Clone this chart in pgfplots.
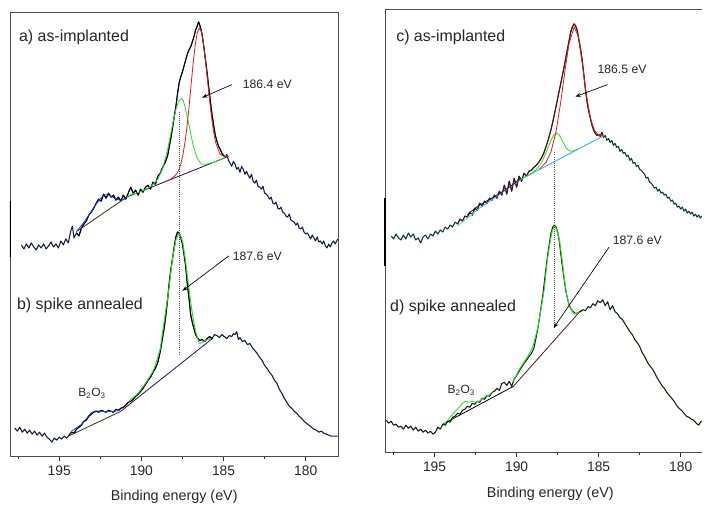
\documentclass[border=0pt]{standalone}
\usepackage{pgfplots}
\pgfplotsset{compat=1.18}
\usepackage{pgfplotstable}
\usepackage{fontspec}
\setmainfont{Liberation Sans}
\usetikzlibrary{arrows.meta}

\definecolor{navydata}{HTML}{101A40}
\definecolor{tealdata}{HTML}{0E3540}
\definecolor{dkdata}{HTML}{0F200F}
\definecolor{fitred}{HTML}{E8141C}
\definecolor{fitgreen}{HTML}{22DD22}
\definecolor{fitblue}{HTML}{1A3AE0}
\definecolor{olivebase}{HTML}{1F3A10}
\definecolor{navybase}{HTML}{151550}
\definecolor{purplebase}{HTML}{2A1050}
\definecolor{envred}{HTML}{5A0A0A}
\definecolor{cyanbase}{HTML}{30B8F0}
\definecolor{turq}{HTML}{40E0C8}
\definecolor{brownbase}{HTML}{5A1A10}

% spectra, y in pixel units above the bottom of each frame
\pgfplotstableread{
E y
197.30 212
197.15 208
197.00 213
196.85 209
196.70 214
196.55 210
196.40 207
196.25 212
196.10 209
195.95 213
195.80 208
195.65 211
195.50 215
195.35 210
195.20 213
195.05 209
194.90 216
194.75 212
194.60 218
194.45 214
194.30 226
194.20 231
194.10 219
193.95 224
193.80 221
193.65 229
193.50 233
193.35 236
193.20 242
193.05 245
192.90 249
192.75 254
192.60 258
192.45 256
192.30 263
192.15 259
192.00 264
191.85 260
191.70 262
191.55 257
191.40 260
191.25 256
191.10 262
190.95 258
190.80 264
190.65 270
190.50 264
190.35 267
190.20 262
190.05 268
189.90 265
189.75 270
189.60 272
189.45 268
189.30 275
189.15 273
189.00 281
188.85 284
188.70 290
188.55 295
188.40 302
188.30 311
188.20 320
188.10 330
188.00 341
187.90 351
187.80 364
187.70 375
187.60 381
187.50 386
187.40 392
187.30 398
187.20 404
187.10 408
187.00 411
186.90 416
186.80 421
186.70 428
186.60 432
186.52 436
186.45 433
186.38 429
186.30 423
186.20 411
186.10 398
186.00 385
185.90 370
185.80 356
185.70 343
185.60 332
185.50 322
185.40 316
185.30 311
185.20 308
185.10 304
185.00 302
184.90 300
184.80 303
184.70 297
184.60 294
184.50 291
184.40 296
184.30 293
184.20 288
184.10 290
184.00 285
183.90 291
183.80 288
183.70 283
183.60 286
183.50 282
183.40 279
183.30 283
183.20 276
183.10 274
183.00 277
182.90 271
182.80 270
182.70 268
182.60 271
182.50 264
182.40 263
182.30 261
182.20 258
182.10 260
182.00 254
181.90 253
181.80 255
181.70 249
181.60 248
181.50 250
181.40 245
181.30 244
181.20 241
181.10 240
181.00 243
180.90 237
180.80 236
180.70 235
180.60 232
180.50 234
180.40 229
180.30 228
180.20 230
180.10 225
180.00 223
179.90 224
179.80 221
179.70 218
179.60 222
179.50 219
179.40 216
179.30 220
179.20 215
179.10 216
179.00 213
178.90 216
178.80 211
178.70 209
178.60 213
178.50 210
178.40 214
178.30 216
178.20 213
178.05 218
}\specA

\pgfplotstableread{
E y
197.70 28
197.55 25
197.40 29
197.25 24
197.10 27
196.95 23
196.80 26
196.65 22
196.50 25
196.35 21
196.20 24
196.05 20
195.90 23
195.75 19
195.60 17
195.45 14
195.30 18
195.15 16
195.00 19
194.85 17
194.70 20
194.55 18
194.40 21
194.25 24
194.10 23
193.95 27
193.80 29
193.65 31
193.50 35
193.35 36
193.20 40
193.05 42
192.90 44
192.75 45
192.60 44
192.45 46
192.30 45
192.15 44
192.00 46
191.85 45
191.70 44
191.55 47
191.40 46
191.25 48
191.10 49
190.95 51
190.80 54
190.65 55
190.50 57
190.35 60
190.20 62
190.05 65
189.90 68
189.75 72
189.60 76
189.45 79
189.30 84
189.15 88
189.00 94
188.85 105
188.70 120
188.60 130
188.50 143
188.40 158
188.30 175
188.20 188
188.10 199
188.00 210
187.90 220
187.80 225
187.70 224
187.60 219
187.50 213
187.40 202
187.30 190
187.20 172
187.10 158
187.00 142
186.90 134
186.80 128
186.70 122
186.60 119
186.45 116
186.30 117
186.15 115
186.00 118
185.85 120
185.70 118
185.55 122
185.40 121
185.25 119
185.10 122
184.95 120
184.80 118
184.65 121
184.50 120
184.40 123
184.30 122
184.20 125
184.10 117
184.00 119
183.85 115
183.70 116
183.55 112
183.40 113
183.25 109
183.10 106
182.95 103
182.80 99
182.65 96
182.50 91
182.35 88
182.20 84
182.05 81
181.90 76
181.75 73
181.60 67
181.45 63
181.30 58
181.15 54
181.00 50
180.85 48
180.70 45
180.55 43
180.40 40
180.25 38
180.10 35
179.95 33
179.80 31
179.65 29
179.50 27
179.35 26
179.20 24
179.05 25
178.90 23
178.75 22
178.60 21
178.45 20
178.30 20
178.05 20
}\specB

\pgfplotstableread{
E y
197.64 217
197.50 214
197.35 219
197.20 215
197.05 213
196.90 218
196.75 214
196.60 220
196.45 216
196.30 219
196.15 213
196.00 215
195.85 210
195.70 216
195.55 218
195.40 214
195.25 219
195.10 217
194.95 222
194.80 219
194.65 223
194.50 221
194.35 226
194.20 224
194.05 228
193.90 226
193.75 231
193.60 229
193.45 234
193.30 232
193.15 237
193.00 236
192.85 241
192.70 238
192.55 245
192.40 243
192.25 250
192.10 247
191.95 252
191.80 250
191.65 255
191.50 253
191.35 258
191.20 255
191.05 262
190.90 258
190.75 268
190.60 259
190.45 272
190.30 262
190.15 275
190.00 266
189.85 277
189.70 272
189.55 280
189.40 277
189.25 282
189.10 283
188.95 286
188.80 288
188.65 291
188.50 295
188.35 300
188.20 307
188.05 315
187.90 324
187.75 335
187.60 347
187.45 359
187.30 371
187.15 383
187.00 396
186.85 409
186.70 422
186.60 427
186.50 430
186.40 428
186.30 423
186.20 414
186.10 405
186.00 393
185.90 379
185.80 363
185.70 351
185.60 342
185.50 335
185.40 328
185.30 323
185.20 320
185.10 318
185.00 319
184.90 317
184.80 321
184.70 316
184.60 318
184.50 313
184.40 315
184.30 311
184.20 313
184.10 308
184.00 310
183.90 306
183.80 307
183.70 302
183.60 304
183.50 300
183.40 301
183.30 297
183.20 298
183.10 293
183.00 295
182.90 290
182.80 291
182.70 287
182.60 288
182.50 284
182.40 283
182.30 281
182.20 279
182.10 275
182.00 276
181.90 271
181.80 270
181.70 268
181.60 265
181.50 266
181.40 262
181.30 264
181.20 260
181.10 261
181.00 258
180.90 259
180.80 255
180.70 256
180.60 252
180.50 253
180.40 249
180.30 250
180.20 246
180.10 247
180.00 244
179.90 246
179.80 242
179.70 244
179.60 240
179.50 242
179.40 239
179.30 241
179.20 237
179.10 239
179.00 236
178.90 238
178.80 235
178.72 237
}\specC

\pgfplotstableread{
E y
197.94 32
197.80 29
197.65 31
197.50 27
197.35 28
197.20 25
197.05 26
196.90 23
196.75 27
196.60 24
196.45 26
196.30 22
196.15 25
196.00 21
195.85 23
195.70 20
195.55 22
195.40 19
195.25 21
195.10 18
194.95 20
194.80 25
194.65 23
194.50 28
194.35 27
194.20 31
194.05 30
193.90 35
193.75 36
193.60 39
193.45 38
193.30 42
193.15 43
193.00 46
192.85 45
192.70 49
192.55 48
192.40 51
192.25 50
192.10 54
191.95 53
191.80 57
191.65 56
191.50 60
191.35 61
191.20 64
191.05 62
190.90 69
190.75 70
190.60 67
190.45 71
190.30 66
190.15 73
190.00 77
189.85 81
189.70 85
189.55 89
189.40 92
189.25 96
189.10 99
188.95 104
188.80 116
188.70 125
188.60 135
188.50 147
188.40 158
188.30 172
188.20 186
188.10 199
188.00 210
187.90 220
187.80 226
187.70 228
187.60 226
187.50 221
187.40 212
187.30 198
187.20 185
187.10 173
187.00 162
186.90 154
186.80 148
186.70 144
186.55 141
186.40 139
186.25 140
186.10 141
185.95 143
185.80 142
185.65 146
185.50 145
185.35 149
185.20 147
185.05 152
184.90 150
184.75 153
184.60 147
184.45 151
184.30 143
184.15 147
184.00 141
183.85 139
183.70 135
183.55 133
183.40 129
183.25 125
183.10 121
182.95 118
182.80 113
182.65 110
182.50 106
182.35 100
182.20 96
182.05 91
181.90 87
181.75 84
181.60 80
181.45 75
181.30 71
181.15 67
181.00 64
180.85 60
180.70 57
180.55 54
180.40 51
180.25 47
180.10 44
179.95 42
179.80 39
179.65 36
179.50 35
179.35 33
179.20 32
179.05 29
178.90 27
178.80 30
178.72 31
}\specD

\pgfplotsset{
  spec/.style={
    scale only axis, anchor=south west,
    x dir=reverse, xmax=198,
    xtick={180,185,190,195}, minor xtick={182.5,187.5,192.5,197.5},
    xtick pos=left, ytick=\empty,
    tick align=outside, major tick length=3.75pt, minor tick length=2.2pt,
    axis line style={black!70, line width=0.6pt},
    every tick/.style={black!80, line width=0.6pt},
    /pgf/number format/assume math mode=true,
    ticklabel style={font=\fontsize{10.4}{12}\selectfont, text=black!85},
    xlabel={Binding energy (eV)},
    xlabel style={font=\fontsize{10.8}{13}\selectfont, text=black!85, yshift=-4.5pt},
    line join=round,
  },
}
\tikzset{
  lbl/.style={font=\fontsize{12}{14}\selectfont, text=black!85, anchor=west, inner sep=0pt},
  ann/.style={font=\fontsize{9.2}{11}\selectfont, text=black!85, anchor=west, inner sep=0pt},
  arr/.style={-{Stealth[length=4pt,width=3pt]}, line width=0.5pt, black},
}

\begin{document}
\begin{tikzpicture}[x=1pt,y=1pt]

% ---- left: a) and b)
\begin{axis}[spec, at={(7.5pt,37.5pt)}, width=247.5pt, height=334.5pt, xmin=178, ymin=0, ymax=446]
\addplot[navydata, line width=0.8pt] table {\specA};
\addplot[black, line width=0.7pt, restrict x to domain=184.85:194.0] table {\specA};
\addplot[olivebase, line width=0.6pt] coordinates {(193.9,226) (190.9,260)};
\addplot[navybase, line width=0.6pt] coordinates {(190.9,260) (184.7,301)};
\addplot[fitblue, line width=0.6pt] coordinates {(193.98,224.7) (193.78,229) (193.58,233) (193.33,239) (193.08,244.7) (192.88,250) (192.68,254.7) (192.48,259) (192.28,262) (192.08,262.5) (191.88,261.3) (191.68,259.5) (191.48,258) (191.28,257) (191.10,257.5) (190.98,259)};
\addplot[fitgreen, line width=0.6pt] coordinates {(190.9,260) (190.6,263) (190.3,264) (189.8,267.3) (189.4,271) (189.0,278) (188.7,289) (188.4,308) (188.1,333) (187.9,348) (187.75,355.5) (187.6,359) (187.45,357) (187.35,351) (187.1,332) (186.85,312) (186.6,299) (186.35,293) (186.1,293) (185.6,295) (184.9,299.8)};
\addplot[fitred, line width=0.6pt] coordinates {(188.60,275.3) (188.23,278) (187.98,281) (187.855,283.3) (187.73,287) (187.605,293) (187.48,302) (187.355,314) (187.23,330) (187.105,349.7) (186.98,372) (186.855,393.5) (186.73,412) (186.605,425) (186.48,430) (186.355,426.6) (186.23,415) (186.105,398) (185.98,378) (185.855,358) (185.73,340) (185.605,325.5) (185.48,315) (185.23,303.5) (184.98,301) (184.70,300.7)};
\addplot[navydata, line width=0.8pt] table {\specB};
\addplot[black, line width=0.7pt, restrict x to domain=185.7:194.5] table {\specB};
\addplot[olivebase, line width=0.6pt] coordinates {(194.48,19.7) (191.28,44.7)};
\addplot[purplebase, line width=0.6pt] coordinates {(191.28,44.7) (185.68,118)};
\addplot[fitblue, line width=0.6pt] coordinates {(194.28,24.7) (193.98,28) (193.68,31.3) (193.38,37) (193.08,43) (192.88,45) (192.68,45.3) (192.38,44.8) (192.08,44.7) (191.68,44.7) (191.48,45.5) (191.28,46.3)};
\addplot[fitgreen, line width=0.7pt] coordinates {(190.78,54.7) (190.2,63) (189.68,74.7) (189.3,85) (189.08,94.7) (188.85,108) (188.68,128) (188.5,148) (188.38,161) (188.2,186) (188.08,201) (187.9,217) (187.74,223) (187.6,221) (187.48,214.7) (187.3,194) (187.18,178) (187.0,155) (186.88,141) (186.7,125) (186.48,113) (186.3,114) (186.08,116.3) (185.78,118)};
\addplot[black!70, densely dotted, line width=0.6pt] coordinates {(187.68,346) (187.68,101)};
\node[lbl] at (axis cs:197.46,420) {a) as-implanted};
\node[lbl] at (axis cs:197.58,151) {b) spike annealed};
\node[ann] at (axis cs:183.84,373) {186.4 eV};
\draw[arr] (axis cs:184.50,373) -- (axis cs:186.30,360);
\node[ann] at (axis cs:184.45,201) {187.6 eV};
\draw[arr] (axis cs:184.68,201) -- (axis cs:187.50,166);
\node[font=\fontsize{9}{11}\selectfont, text=black!85] at (axis cs:193.0,63) {B\textsubscript{2}O\textsubscript{3}};
\draw[black, line width=1.4pt] (axis cs:198,200) -- (axis cs:198,256);
\end{axis}

% ---- right: c) and d); the frame is cut by the right edge of the page
\begin{axis}[spec, at={(290.25pt,40.5pt)}, width=238.5pt, height=333.75pt,
  xmin=178.7, ymin=0, ymax=445, clip=false,
  axis x line*=bottom, axis y line=none,
  xlabel style={xshift=5pt}]
\draw[black!70, line width=0.6pt] (axis cs:178.7,445) -- (axis cs:198,445) -- (axis cs:198,0);
\addplot[tealdata, line width=0.8pt] table {\specC};
\addplot[envred, line width=0.7pt, restrict x to domain=184.7:193.7] table {\specC};
\addplot[turq, line width=0.6pt] coordinates {(193.6,227) (192.3,244.5)};
\addplot[cyanbase, line width=0.7pt] coordinates {(192.3,244.5) (189.73,274) (184.66,318)};
\addplot[navybase, line width=0.6pt] coordinates {(193.0,238.5) (192.6,244) (192.2,248.5) (191.8,252.5) (191.4,256) (191.0,260) (190.6,264.5) (190.2,269) (189.73,275)};
\addplot[fitgreen, line width=0.6pt] coordinates {(189.7,274.3) (189.2,278.8) (188.8,283.7) (188.5,290.2) (188.2,300.9) (187.95,311.4) (187.75,318) (187.6,320.5) (187.4,318.6) (187.2,312.1) (187.0,305.7) (186.8,302.6) (186.6,302.1) (186.3,303.8)};
\addplot[fitred, line width=0.6pt] coordinates {(188.6,284.4) (188.2,291.2) (187.9,301.8) (187.6,321.5) (187.3,352.6) (187.05,383.3) (186.8,410.5) (186.49,427.1) (186.25,417.8) (186.0,390.4) (185.75,359.1) (185.5,335.4) (185.25,322.8) (185.0,318.3) (184.7,318.3)};
\addplot[dkdata, line width=0.8pt] table {\specD};
\addplot[black, line width=0.6pt] coordinates {(194.5,28) (190.2,66)};
\addplot[brownbase, line width=0.6pt] coordinates {(190.2,66) (186.08,142.3)};
\addplot[fitgreen, line width=0.6pt] coordinates {(194.45,28) (194.2,32) (194.0,36) (193.75,41) (193.5,45) (193.3,49) (193.1,51) (192.9,50) (192.7,51) (192.5,50) (192.3,51) (192.1,53) (191.9,56) (191.7,57) (191.5,60)};
\addplot[fitgreen, line width=0.7pt] coordinates {(190.25,70) (189.8,84) (189.32,96) (189.0,106) (188.72,124) (188.5,145) (188.31,164) (188.15,190) (188.0,207) (187.85,221) (187.70,227.3) (187.55,223) (187.4,214) (187.25,196) (187.09,174) (186.95,158) (186.79,147.3) (186.6,141) (186.49,139) (186.3,139.5) (186.18,140.7)};
\addplot[black!70, densely dotted, line width=0.6pt] coordinates {(187.68,301) (187.68,124)};
\node[lbl] at (axis cs:197.35,416) {c) as-implanted};
\node[lbl] at (axis cs:197.72,145) {d) spike annealed};
\node[ann] at (axis cs:185.08,384) {186.5 eV};
\draw[arr] (axis cs:184.46,369) -- (axis cs:186.41,357);
\node[ann] at (axis cs:184.15,212.3) {187.6 eV};
\draw[arr] (axis cs:184.37,205.7) -- (axis cs:187.74,124.7);
\node[font=\fontsize{9}{11}\selectfont, text=black!85] at (axis cs:193.37,62) {B\textsubscript{2}O\textsubscript{3}};
\draw[black, line width=1.4pt] (axis cs:198,187) -- (axis cs:198,255);
\end{axis}
\pgfresetboundingbox
\useasboundingbox (0,0) rectangle (531,381);
\end{tikzpicture}
\end{document}
